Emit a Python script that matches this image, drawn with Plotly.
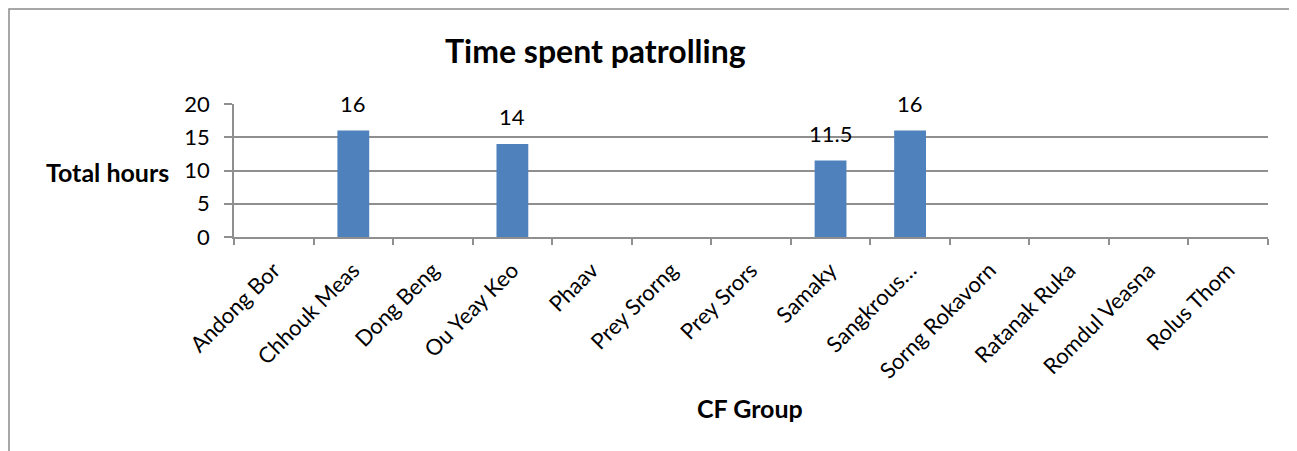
import plotly.graph_objects as go

# CF groups and hours spent patrolling (blank = no patrol recorded)
groups = ['Andong Bor', 'Chhouk Meas', 'Dong Beng', 'Ou Yeay Keo', 'Phaav',
          'Prey Srorng', 'Prey Srors', 'Samaky', 'Sangkrous…', 'Sorng Rokavorn',
          'Ratanak Ruka', 'Romdul Veasna', 'Rolus Thom']
hours = [None, 16, None, 14, None, None, None, 11.5, 16, None, None, None, None]
y_ticks = [0, 5, 10, 15, 20]

FONT = 'Lato, Open Sans, sans-serif'
GRID = '#8f8f8f'

fig = go.Figure()
fig.add_trace(go.Bar(
    x=groups, y=hours,
    marker=dict(color='#4F81BD', line=dict(width=0)),
    showlegend=False,
    hoverinfo='x+y',
))

# value labels above bars (Excel style, a bit higher than plotly's default)
for g, h in zip(groups, hours):
    if h is None:
        continue
    fig.add_annotation(x=g, y=h, text=f'{h:g}', showarrow=False,
                       yanchor='bottom', yshift=12,
                       font=dict(family=FONT, size=22, color='#000'))

# page body has an 8px margin, so the figure is 8px smaller on each side
fig.update_layout(
    width=1289, height=443,
    margin=dict(l=226, r=29, t=96, b=214),
    paper_bgcolor='white', plot_bgcolor='white',
    bargap=0.6,
    font=dict(family=FONT, color='#000'),
)

fig.update_xaxes(
    type='category', tickangle=-45, tickson='boundaries',
    ticks='outside', ticklen=6, tickcolor=GRID, tickwidth=1.5,
    showline=True, linecolor=GRID, linewidth=1.5,
    showgrid=False, tickfont=dict(family=FONT, size=22),
    ticklabelstandoff=10,
)
fig.update_yaxes(
    range=[0, 20], tickvals=y_ticks,
    ticks='outside', ticklen=8, tickcolor=GRID, tickwidth=1.5,
    showline=True, linecolor=GRID, linewidth=1.5,
    showgrid=True, gridcolor=GRID, gridwidth=1.5,
    zeroline=False, tickfont=dict(family=FONT, size=22),
    ticklabelstandoff=10,
)

# titles placed where the original chart had them
fig.add_annotation(xref='paper', yref='paper', x=0.350, y=1.406,
                   xanchor='center', yanchor='middle',
                   text='<b>Time spent patrolling</b>', showarrow=False,
                   font=dict(family=FONT, size=32))
fig.add_annotation(xref='paper', yref='paper', x=-0.061, y=0.489,
                   xanchor='right', yanchor='middle',
                   text='<b>Total hours</b>', showarrow=False,
                   font=dict(family=FONT, size=25))
fig.add_annotation(xref='paper', yref='paper', x=0.499, y=-1.286,
                   xanchor='center', yanchor='middle',
                   text='<b>CF Group</b>', showarrow=False,
                   font=dict(family=FONT, size=25))

# outer chart border
fig.add_shape(type='rect', xref='paper', yref='paper',
              x0=-0.2176, x1=1.0232, y0=-1.70, y1=1.714,
              line=dict(color='#8a8a8a', width=1.5))

fig.write_html("out.html")
